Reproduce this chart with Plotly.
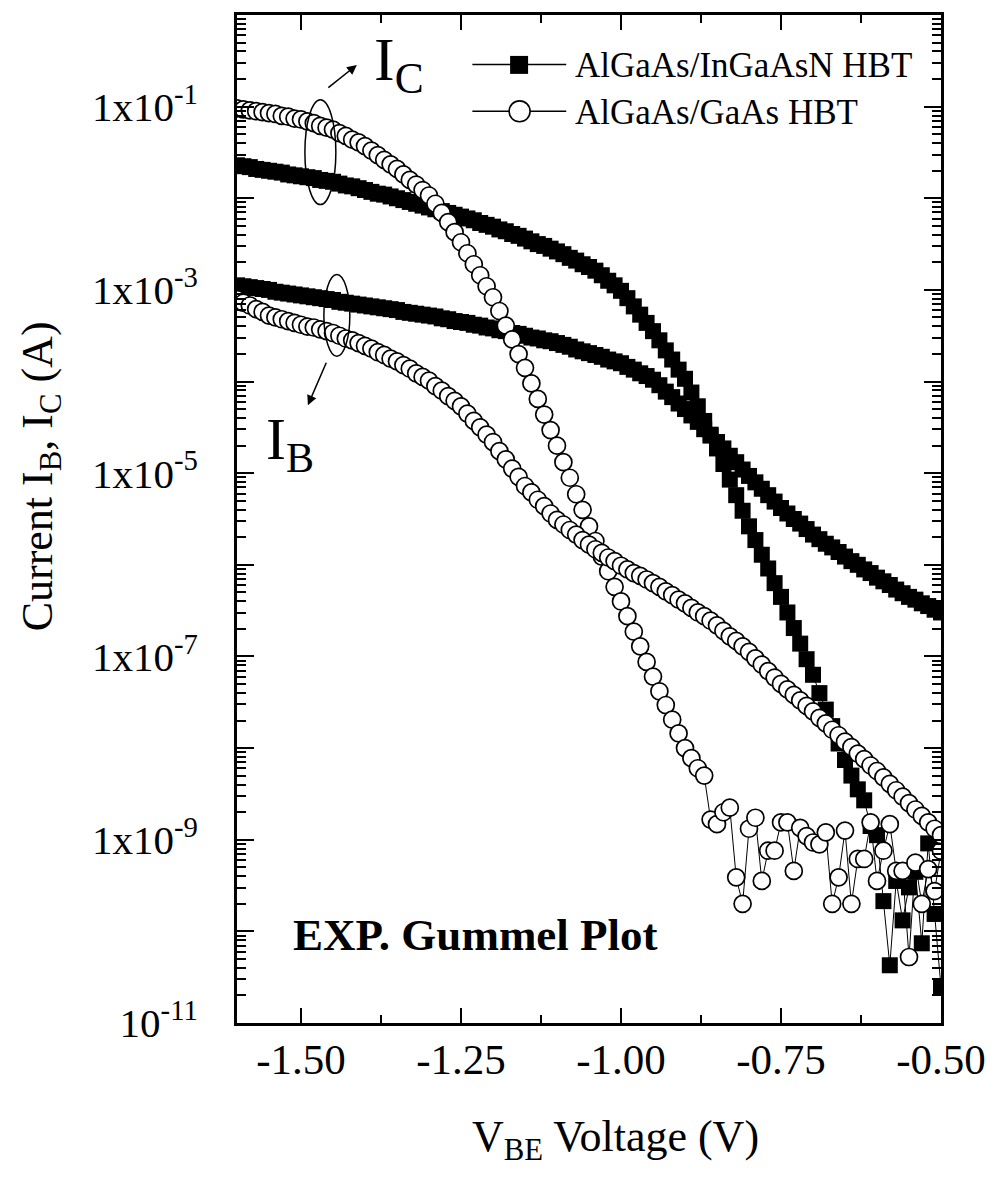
import plotly.graph_objects as go

# ---- data ----
# bias sweep, -1.60 V to -0.50 V in 0.01 V steps
v_be = [round(-1.60 + 0.01 * i, 2) for i in range(111)]

# log10 of current (A)
log_ic_ingaasn = [
    -1.64, -1.65, -1.66, -1.68, -1.69, -1.70, -1.71, -1.72, -1.74, -1.75,
    -1.76, -1.77, -1.78, -1.80, -1.81, -1.82, -1.84, -1.86, -1.87, -1.89,
    -1.91, -1.93, -1.95, -1.96, -1.98, -2.00, -2.02, -2.04, -2.06, -2.08,
    -2.10, -2.12, -2.14, -2.16, -2.18, -2.20, -2.22, -2.24, -2.27, -2.29,
    -2.31, -2.34, -2.36, -2.39, -2.41, -2.44, -2.47, -2.50, -2.52, -2.55,
    -2.58, -2.61, -2.65, -2.68, -2.72, -2.75, -2.79, -2.84, -2.90, -2.95,
    -3.01, -3.09, -3.18, -3.27, -3.36, -3.45, -3.55, -3.66, -3.76, -3.87,
    -3.97, -4.12, -4.27, -4.43, -4.58, -4.73, -4.90, -5.07, -5.24, -5.41,
    -5.58, -5.73, -5.89, -6.04, -6.20, -6.35, -6.52, -6.69, -6.86, -7.03,
    -7.20, -7.40, -7.58, -7.76, -7.95, -8.13, -8.30, -8.45, -8.57, -8.85,
    -8.95, -9.67, -10.37, -9.45, -9.88, -9.52, -9.35, -10.13, -9.04, -9.81,
    -10.61,
]
log_ib_ingaasn = [
    -2.95, -2.96, -2.97, -2.98, -2.99, -3.00, -3.02, -3.03, -3.04, -3.05,
    -3.06, -3.07, -3.08, -3.09, -3.10, -3.11, -3.13, -3.14, -3.15, -3.16,
    -3.17, -3.18, -3.19, -3.20, -3.21, -3.22, -3.24, -3.25, -3.26, -3.27,
    -3.28, -3.29, -3.31, -3.32, -3.34, -3.35, -3.36, -3.38, -3.39, -3.41,
    -3.42, -3.44, -3.45, -3.47, -3.48, -3.50, -3.52, -3.53, -3.55, -3.56,
    -3.58, -3.60, -3.62, -3.65, -3.67, -3.69, -3.71, -3.73, -3.76, -3.78,
    -3.80, -3.84, -3.87, -3.91, -3.94, -3.98, -4.04, -4.11, -4.17, -4.24,
    -4.30, -4.37, -4.44, -4.52, -4.59, -4.66, -4.73, -4.81, -4.88, -4.96,
    -5.03, -5.10, -5.17, -5.24, -5.31, -5.38, -5.44, -5.50, -5.55, -5.61,
    -5.67, -5.72, -5.77, -5.81, -5.86, -5.91, -5.96, -6.00, -6.05, -6.09,
    -6.14, -6.18, -6.22, -6.27, -6.31, -6.35, -6.38, -6.42, -6.45, -6.49,
    -6.52,
]
log_ic_gaas = [
    -1.02, -1.03, -1.04, -1.05, -1.06, -1.07, -1.08, -1.10, -1.11, -1.13,
    -1.14, -1.16, -1.18, -1.21, -1.23, -1.25, -1.29, -1.32, -1.36, -1.39,
    -1.43, -1.48, -1.53, -1.58, -1.63, -1.68, -1.74, -1.80, -1.85, -1.91,
    -1.97, -2.06, -2.16, -2.26, -2.37, -2.48, -2.60, -2.72, -2.84, -2.96,
    -3.08, -3.23, -3.39, -3.54, -3.70, -3.85, -4.02, -4.19, -4.36, -4.53,
    -4.70, -4.88, -5.05, -5.23, -5.40, -5.58, -5.74, -5.91, -6.07, -6.24,
    -6.40, -6.56, -6.73, -6.89, -7.06, -7.22, -7.38, -7.53, -7.69, -7.84,
    -8.00, -8.11, -8.22, -8.30, -8.78, -8.83, -8.70, -8.65, -9.41, -9.70,
    -8.88, -8.76, -9.45, -9.12, -9.12, -8.81, -8.81, -9.34, -8.87, -8.96,
    -9.03, -9.05, -8.92, -9.70, -9.41, -8.90, -9.70, -9.21, -9.21, -8.81,
    -9.45, -9.12, -8.83, -9.34, -9.34, -10.28, -9.25, -9.70, -9.32, -9.56,
    -9.12,
]
log_ib_gaas = [
    -3.10, -3.14, -3.17, -3.21, -3.24, -3.28, -3.30, -3.32, -3.34, -3.36,
    -3.38, -3.40, -3.41, -3.43, -3.45, -3.47, -3.50, -3.53, -3.55, -3.58,
    -3.61, -3.64, -3.68, -3.71, -3.75, -3.78, -3.82, -3.86, -3.91, -3.95,
    -3.99, -4.05, -4.10, -4.16, -4.21, -4.27, -4.35, -4.43, -4.50, -4.58,
    -4.66, -4.76, -4.85, -4.95, -5.04, -5.14, -5.21, -5.29, -5.36, -5.44,
    -5.51, -5.56, -5.62, -5.67, -5.73, -5.78, -5.83, -5.87, -5.92, -5.96,
    -6.01, -6.05, -6.09, -6.12, -6.16, -6.20, -6.24, -6.29, -6.33, -6.38,
    -6.42, -6.47, -6.52, -6.56, -6.61, -6.66, -6.72, -6.78, -6.83, -6.89,
    -6.95, -7.02, -7.09, -7.16, -7.23, -7.30, -7.36, -7.42, -7.48, -7.54,
    -7.60, -7.67, -7.73, -7.80, -7.86, -7.93, -7.99, -8.06, -8.12, -8.19,
    -8.25, -8.32, -8.39, -8.46, -8.53, -8.60, -8.67, -8.74, -8.81, -8.88,
    -8.95,
]

x_tickvals = [-1.50, -1.25, -1.00, -0.75, -0.50]
x_ticktext = ["-1.50", "-1.25", "-1.00", "-0.75", "-0.50"]
x_minorvals = [-1.375, -1.125, -0.875, -0.625]
y_decades = list(range(-11, 1))
y_labels = {-1: "1x10<sup>-1</sup>", -3: "1x10<sup>-3</sup>", -5: "1x10<sup>-5</sup>",
            -7: "1x10<sup>-7</sup>", -9: "1x10<sup>-9</sup>", -11: "10<sup>-11</sup>"}
legend_names = ["AlGaAs/InGaAsN HBT", "AlGaAs/GaAs HBT"]

# ---- geometry helpers (pixel -> paper) ----
W, H = 998, 1193
L, R, T, B = 237, 56, 13, 170
PW, PH = W - L - R, H - T - B


def px(xp):
    return (xp - L) / PW


def py(yp):
    return (H - B - yp) / PH


FONT = "Liberation Serif, Times New Roman, serif"


def to_amp(vals):
    return [10 ** v for v in vals]


fig = go.Figure()
sq = dict(symbol="square", size=16, color="black", line=dict(width=0))
ci = dict(symbol="circle", size=17, color="white", line=dict(color="black", width=1.7))
ln = dict(color="black", width=1)

fig.add_trace(go.Scatter(x=v_be, y=to_amp(log_ic_ingaasn), mode="lines+markers",
                         marker=sq, line=ln, name=legend_names[0], showlegend=False))
fig.add_trace(go.Scatter(x=v_be, y=to_amp(log_ib_ingaasn), mode="lines+markers",
                         marker=sq, line=ln, name=legend_names[0], showlegend=False))
fig.add_trace(go.Scatter(x=v_be, y=to_amp(log_ic_gaas), mode="lines+markers",
                         marker=ci, line=ln, name=legend_names[1], showlegend=False))
fig.add_trace(go.Scatter(x=v_be, y=to_amp(log_ib_gaas), mode="lines+markers",
                         marker=ci, line=ln, name=legend_names[1], showlegend=False))

fig.update_layout(
    width=W, height=H,
    margin=dict(l=L, r=R, t=T, b=B),
    paper_bgcolor="white", plot_bgcolor="white",
    font=dict(family=FONT, color="black", size=44),
    showlegend=False,
)
fig.update_xaxes(
    range=[-1.6, -0.5], showgrid=False, zeroline=False,
    showline=True, linecolor="black", linewidth=3, mirror="ticks",
    ticks="inside", ticklen=15, tickwidth=2, tickcolor="black",
    tickmode="array", tickvals=x_tickvals, ticktext=x_ticktext,
    tickfont=dict(family=FONT, size=43), ticklabelstandoff=-4,
    minor=dict(ticks="inside", ticklen=8, tickwidth=2, tickcolor="black",
               tickmode="array", tickvals=x_minorvals, showgrid=False),
)
fig.update_yaxes(
    type="log", range=[-11, 0], showgrid=False, zeroline=False,
    showline=True, linecolor="black", linewidth=3, mirror="ticks",
    ticks="inside", ticklen=17, tickwidth=2, tickcolor="black",
    tickmode="array", tickvals=[10.0 ** k for k in y_decades],
    ticktext=[y_labels.get(k, "") for k in y_decades],
    tickfont=dict(family=FONT, size=41), ticklabelstandoff=28,
    minor=dict(ticks="inside", ticklen=9, tickwidth=1.5, tickcolor="black",
               tickmode="array",
               tickvals=[m * 10.0 ** k for k in range(-11, 0) for m in range(2, 10)],
               showgrid=False),
)

shapes = []
# ellipses marking the I_C and I_B groups
shapes.append(dict(type="circle", xref="paper", yref="paper", x0=px(305), x1=px(336),
                   y0=py(203), y1=py(98), line=dict(color="black", width=1.5)))
shapes.append(dict(type="circle", xref="paper", yref="paper", x0=px(324), x1=px(350),
                   y0=py(355), y1=py(273), line=dict(color="black", width=1.5)))
# custom legend glyphs
for yy in (62.5, 109.5):
    shapes.append(dict(type="line", xref="paper", yref="paper", x0=px(472.7), x1=px(566.7),
                       y0=py(yy), y1=py(yy), line=dict(color="black", width=1.5)))
shapes.append(dict(type="rect", xref="paper", yref="paper", x0=px(510.5), x1=px(528.5),
                   y0=py(72), y1=py(54), fillcolor="black", line=dict(color="black", width=0)))
shapes.append(dict(type="circle", xref="paper", yref="paper", x0=px(509.5), x1=px(530.5),
                   y0=py(120), y1=py(99), fillcolor="white", line=dict(color="black", width=1.6)))
fig.update_layout(shapes=shapes)

ann = []
ann.append(dict(xref="paper", yref="paper", x=px(573), y=py(63.5), xanchor="left", yanchor="middle",
                text=legend_names[0], showarrow=False, font=dict(size=35)))
ann.append(dict(xref="paper", yref="paper", x=px(573), y=py(110.5), xanchor="left", yanchor="middle",
                text=legend_names[1], showarrow=False, font=dict(size=35)))
# arrows
ann.append(dict(xref="paper", yref="paper", x=px(357), y=py(63), ax=-30, ay=24, text="",
                showarrow=True, arrowhead=2, arrowsize=1.3, arrowwidth=1.5, arrowcolor="black"))
ann.append(dict(xref="paper", yref="paper", x=px(308), y=py(404), ax=19, ay=-44, text="",
                showarrow=True, arrowhead=2, arrowsize=1.3, arrowwidth=1.5, arrowcolor="black"))
# I_C, I_B labels
ann.append(dict(xref="paper", yref="paper", x=px(372), y=py(62), xanchor="left", yanchor="middle",
                text="I<sub>C</sub>", showarrow=False, font=dict(size=62)))
ann.append(dict(xref="paper", yref="paper", x=px(264), y=py(442), xanchor="left", yanchor="middle",
                text="I<sub>B</sub>", showarrow=False, font=dict(size=60)))
ann.append(dict(xref="paper", yref="paper", x=px(291), y=py(935), xanchor="left", yanchor="middle",
                text="<b>EXP. Gummel Plot</b>", showarrow=False, font=dict(size=45)))
# axis titles
ann.append(dict(xref="paper", yref="paper", x=px(616.5), y=py(1140), xanchor="center", yanchor="middle",
                text="V<sub>BE</sub> Voltage (V)", showarrow=False, font=dict(size=44)))
ann.append(dict(xref="paper", yref="paper", x=px(40), y=py(475), xanchor="center", yanchor="middle",
                text="Current I<sub>B</sub>, I<sub>C</sub> (A)", textangle=-90, showarrow=False,
                font=dict(size=44)))
fig.update_layout(annotations=ann)

# remove the default page margin so the figure sits at the window's origin
fig.write_html("out.html",
               config={"displayModeBar": False},
               post_script="document.body.style.margin='0px';document.body.style.overflow='hidden';")
